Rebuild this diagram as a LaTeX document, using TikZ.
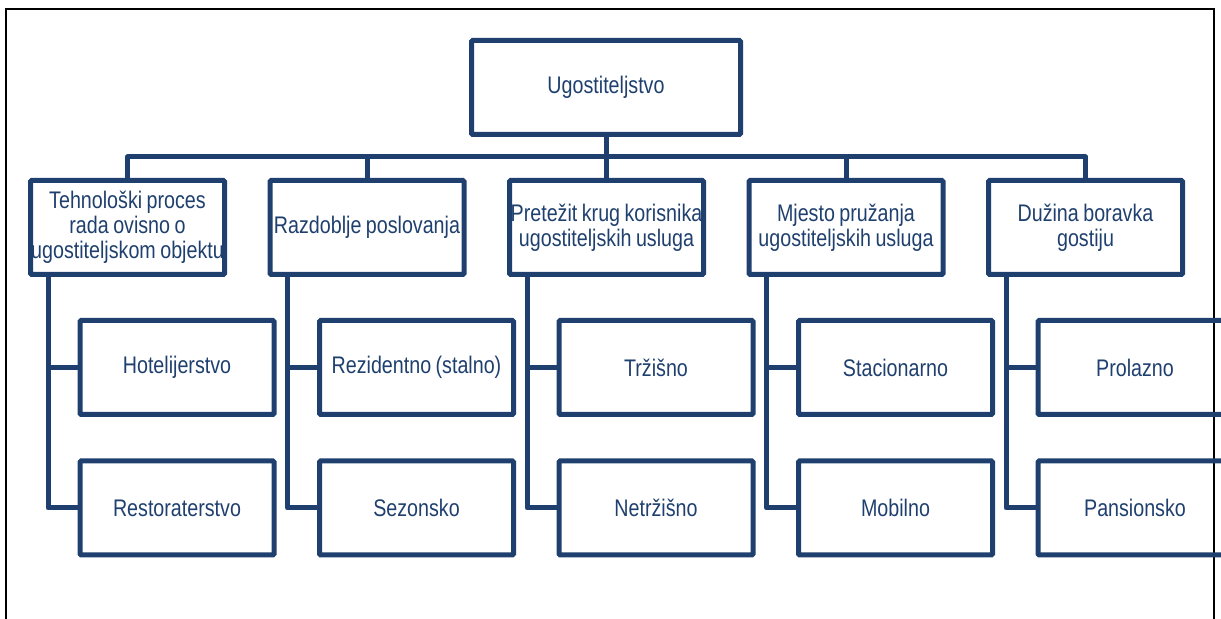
\documentclass[tikz,border=0pt]{standalone}
\usepackage{fontspec}
\setmainfont{Liberation Sans}[FakeStretch=0.82, WordSpace=0.82]
\definecolor{tamnoplava}{RGB}{31,64,110}

\begin{document}
\begin{tikzpicture}[x=0.5pt, y=-0.5pt,
  kutija/.style={draw=tamnoplava, line width=2.5pt, rounded corners=0.6pt, minimum width=97pt, minimum height=47pt,
    inner xsep=0pt, inner ysep=1pt, align=center, text=tamnoplava, font=\fontsize{12}{12.5}\selectfont},
  veza/.style={draw=tamnoplava, line width=2.5pt, line join=round}]
\clip (0,0) rectangle (1221,619);
% okvir
\draw[line width=1.2pt] (6,9) rectangle (1214,660);

% korijen
\node[kutija, minimum width=134.5pt] (ugo) at (606,87.5) {Ugostiteljstvo};

% kategorije i njihove podvrste
\foreach \i/\tekst/\prvi/\drugi in {
    1/{Tehnološki proces\\rada ovisno o\\ugostiteljskom objektu}/Hotelijerstvo/Restoraterstvo,
    2/{Razdoblje poslovanja}/{Rezidentno (stalno)}/Sezonsko,
    3/{Pretežit krug korisnika\\ugostiteljskih usluga}/Tržišno/Netržišno,
    4/{Mjesto pružanja\\ugostiteljskih usluga}/Stacionarno/Mobilno,
    5/{Dužina boravka\\gostiju}/Prolazno/Pansionsko} {
  \pgfmathsetmacro{\xk}{127.5+(\i-1)*239.5}
  \node[kutija] (k\i) at (\xk,227.5) {\tekst};
  \node[kutija] (a\i) at (\xk+49.5,367.5) {\prvi};
  \node[kutija] (b\i) at (\xk+49.5,508) {\drugi};
  \coordinate (s\i) at (\xk,157);
  % spojnice
  \draw[veza] (ugo.south) |- (s\i) -- (k\i.north);
  \draw[veza] ([xshift=-39.75pt]k\i.south) |- (a\i.west);
  \draw[veza] ([xshift=-39.75pt]k\i.south) |- (b\i.west);
}
\end{tikzpicture}
\end{document}
